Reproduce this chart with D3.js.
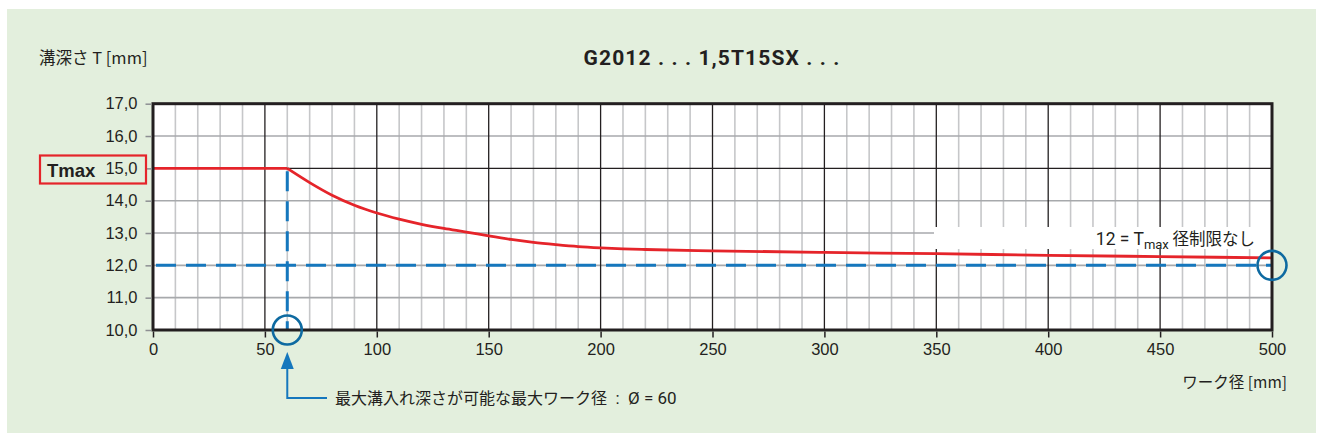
<!DOCTYPE html>
<html>
<head>
<meta charset="utf-8">
<script src="https://cdn.jsdelivr.net/npm/d3@7/dist/d3.min.js"></script>
<style>
  html, body { margin: 0; padding: 0; background: #ffffff; }
  svg { display: block; }
  text { font-family: "Liberation Sans", Arial, sans-serif; fill: #231f20; white-space: pre; }
</style>
</head>
<body>
<svg id="chart" width="1322" height="441"></svg>
<script>
// Groove depth T [mm] versus workpiece diameter [mm]
const diameters = [0, 60, 70, 80, 90, 100, 110, 120, 130, 140, 150, 160, 170, 180, 190, 200, 210, 220, 250, 300, 350, 400, 450, 500];
const depths    = [15, 15, 14.56, 14.17, 13.86, 13.62, 13.43, 13.27, 13.14, 13.03, 12.91, 12.80, 12.71, 12.64, 12.58, 12.54, 12.51, 12.49, 12.45, 12.40, 12.36, 12.31, 12.27, 12.23];

const xTicks = [0, 50, 100, 150, 200, 250, 300, 350, 400, 450, 500];
const yTicks = [10, 11, 12, 13, 14, 15, 16, 17];
const tMax = 15;
const tLimit = 12;
const dMaxDepth = 60;

const title = "G2012 . . . 1,5T15SX . . .";
const yTitle = "溝深さ T [mm]";
const xTitle = "ワーク径 [mm]";
const note = "最大溝入れ深さが可能な最大ワーク径";
const noteValue = "  :  Ø = " + dMaxDepth;

const svg = d3.select("#chart");

const margin = { left: 153, right: 1272, top: 103.7, bottom: 330 };
const x = d3.scaleLinear().domain([0, 500]).range([margin.left, margin.right]);
const y = d3.scaleLinear().domain([10, 17]).range([margin.bottom, margin.top]);

const green = "#e3efdd";
const red = "#e5242a";
const blue = "#1577bd";
const ring = "#0e6aa1";
const dark = "#231f20";

// panel background
svg.append("rect").attr("x", 7).attr("y", 9).attr("width", 1309).attr("height", 424).attr("fill", green);

// plot area
svg.append("rect")
  .attr("x", x(0)).attr("y", y(17))
  .attr("width", x(500) - x(0)).attr("height", y(10) - y(17))
  .attr("fill", "#ffffff");

const grid = svg.append("g");
// minor verticals every 10 mm
d3.range(10, 500, 10).filter(v => v % 50 !== 0).forEach(v => {
  grid.append("line").attr("x1", x(v)).attr("x2", x(v)).attr("y1", y(17)).attr("y2", y(10))
    .attr("stroke", "#c6c7c9").attr("stroke-width", 1.6);
});
// horizontal lines every 1 mm
yTicks.filter(v => v > 10 && v < 17).forEach(v => {
  grid.append("line").attr("x1", x(0)).attr("x2", x(500)).attr("y1", y(v)).attr("y2", y(v))
    .attr("stroke", v === tMax ? dark : "#a7a9ac").attr("stroke-width", v === tMax ? 1.4 : 1.6);
});
// major verticals every 50 mm
xTicks.filter(v => v > 0 && v < 500).forEach(v => {
  grid.append("line").attr("x1", x(v)).attr("x2", x(v)).attr("y1", y(17)).attr("y2", y(10))
    .attr("stroke", dark).attr("stroke-width", 1.3);
});

// white box behind the limit label
svg.append("rect").attr("x", 934).attr("y", 227).attr("width", x(500) - 934).attr("height", 22).attr("fill", "#ffffff");
const lbl = svg.append("text").attr("x", 1255).attr("y", 244.5).attr("text-anchor", "end")
  .style("font-family", "Roboto, 'Liberation Sans', sans-serif").style("font-size", "17.5px");
lbl.append("tspan").text(tLimit + " = T");
lbl.append("tspan").attr("dy", 4).style("font-size", "13px").text("max");
lbl.append("tspan").attr("dy", -4).style("font-family", "'Noto Sans CJK JP', sans-serif").style("font-size", "16.5px").text(" 径制限なし");

// blue guides
svg.append("line").attr("x1", x(0)).attr("x2", x(500)).attr("y1", y(tLimit)).attr("y2", y(tLimit))
  .attr("stroke", blue).attr("stroke-width", 3).attr("stroke-dasharray", "20,10").attr("stroke-dashoffset", -3);
svg.append("line").attr("x1", x(dMaxDepth)).attr("x2", x(dMaxDepth)).attr("y1", y(tMax)).attr("y2", y(10))
  .attr("stroke", blue).attr("stroke-width", 3).attr("stroke-dasharray", "20,10").attr("stroke-dashoffset", -3);

// depth curve: flat plateau up to the max-depth diameter, then a smooth decay
const pts = diameters.map((d, i) => [d, depths[i]]);
const flat = pts.filter(p => p[0] <= dMaxDepth);
const decay = pts.filter(p => p[0] >= dMaxDepth);
svg.append("path").datum(flat).attr("d", d3.line().x(p => x(p[0])).y(p => y(p[1])))
  .attr("fill", "none").attr("stroke", red).attr("stroke-width", 2.8);
svg.append("path").datum(decay).attr("d", d3.line().x(p => x(p[0])).y(p => y(p[1])).curve(d3.curveMonotoneX))
  .attr("fill", "none").attr("stroke", red).attr("stroke-width", 2.8).attr("stroke-linejoin", "round");

// frame
svg.append("rect")
  .attr("x", x(0)).attr("y", y(17))
  .attr("width", x(500) - x(0)).attr("height", y(10) - y(17))
  .attr("fill", "none").attr("stroke", dark).attr("stroke-width", 3);

// axes
const yAxis = svg.append("g").attr("transform", `translate(${x(0) - 1.5},0)`)
  .call(d3.axisLeft(y).tickValues(yTicks).tickSize(6).tickPadding(8).tickFormat(d => d3.format(".1f")(d).replace(".", ",")));
yAxis.select(".domain").remove();
yAxis.selectAll(".tick line").attr("stroke", "#8d8f92").attr("stroke-width", 1.5);
yAxis.selectAll(".tick text").style("font-size", "16.5px").style("font-family", "'Liberation Sans', Arial, sans-serif").attr("fill", dark);

const xAxis = svg.append("g").attr("transform", `translate(0,${y(10) + 1.5})`)
  .call(d3.axisBottom(x).tickValues(xTicks).tickSize(6).tickPadding(6));
xAxis.select(".domain").remove();
xAxis.selectAll(".tick line").attr("stroke", dark).attr("stroke-width", 1.5);
xAxis.selectAll(".tick text").style("font-size", "16.5px").style("font-family", "'Liberation Sans', Arial, sans-serif").attr("fill", dark);

// rings
svg.append("circle").attr("cx", x(dMaxDepth)).attr("cy", y(10)).attr("r", 14.5)
  .attr("fill", "none").attr("stroke", ring).attr("stroke-width", 2.6);
svg.append("circle").attr("cx", x(500)).attr("cy", y(tLimit)).attr("r", 14.5)
  .attr("fill", "none").attr("stroke", ring).attr("stroke-width", 2.6);

// Tmax marker
svg.append("rect").attr("x", 40).attr("y", 155.5).attr("width", 106).attr("height", 28)
  .attr("fill", "none").attr("stroke", red).attr("stroke-width", 2.2);
svg.append("text").attr("x", 47).attr("y", 176.5).style("font-size", "18.5px").style("font-weight", "bold").text("Tmax");

// note with arrow
const ax = x(dMaxDepth);
svg.append("path").attr("d", `M${ax},352 L${ax - 6.5},369 L${ax + 6.5},369 Z`).attr("fill", blue);
svg.append("path").attr("d", `M${ax},368 L${ax},398 L327,398`).attr("fill", "none").attr("stroke", blue).attr("stroke-width", 2);
const nt = svg.append("text").attr("x", 335).attr("y", 404).attr("fill", "#333");
nt.append("tspan").style("font-family", "'Noto Sans CJK JP', sans-serif").style("font-size", "16px").text(note);
nt.append("tspan").style("font-family", "Roboto, 'Liberation Sans', sans-serif").style("font-size", "17px").text(noteValue);

// titles
svg.append("text").attr("x", 712).attr("y", 65).attr("text-anchor", "middle")
  .style("font-family", "Roboto, 'DejaVu Sans', sans-serif").style("font-weight", "bold").style("font-size", "21px")
  .style("letter-spacing", "1.1px").text(title);
svg.append("text").attr("x", 39).attr("y", 64)
  .style("font-family", "'Noto Sans CJK JP', sans-serif").style("font-size", "16.5px").text(yTitle);
svg.append("text").attr("x", 1287).attr("y", 388).attr("text-anchor", "end")
  .style("font-family", "'Noto Sans CJK JP', sans-serif").style("font-size", "15.5px").text(xTitle);
</script>
</body>
</html>
